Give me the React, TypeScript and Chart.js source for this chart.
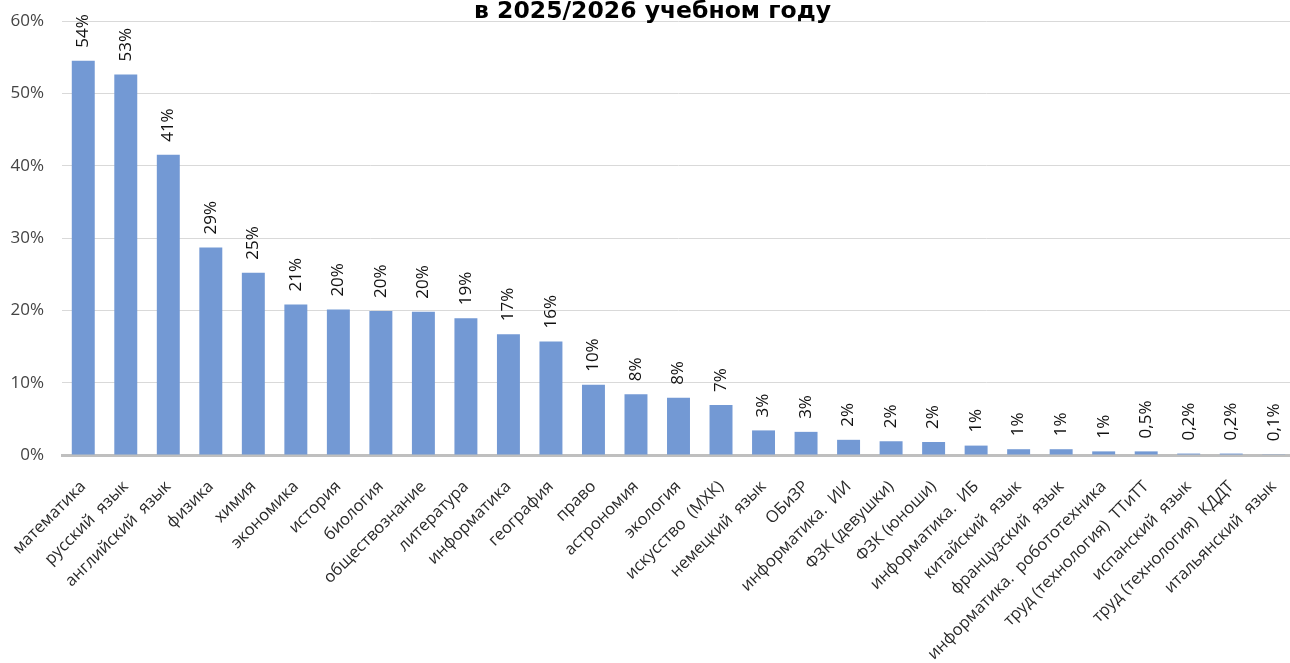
import React, { useEffect, useRef } from "react";
import { Chart, registerables } from "chart.js";

Chart.register(...registerables);

const categories = [
  "математика",
  "русский  язык",
  "английский  язык",
  "физика",
  "химия",
  "экономика",
  "история",
  "биология",
  "обществознание",
  "литература",
  "информатика",
  "география",
  "право",
  "астрономия",
  "экология",
  "искусство  (МХК)",
  "немецкий  язык",
  "ОБиЗР",
  "информатика.  ИИ",
  "ФЗК (девушки)",
  "ФЗК (юноши)",
  "информатика.  ИБ",
  "китайский  язык",
  "французский  язык",
  "информатика.  робототехника",
  "труд (технология)  ТТиТТ",
  "испанский  язык",
  "труд (технология)  КДДТ",
  "итальянский  язык",
];

const values = [
  54.5, 52.6, 41.5, 28.7, 25.2, 20.8, 20.1, 19.9, 19.8, 18.9, 16.7, 15.7, 9.7,
  8.4, 7.9, 6.9, 3.4, 3.2, 2.1, 1.9, 1.8, 1.3, 0.8, 0.8, 0.5, 0.5, 0.2, 0.2,
  0.1,
];

const valueLabels = [
  "54%", "53%", "41%", "29%", "25%", "21%", "20%", "20%", "20%", "19%", "17%",
  "16%", "10%", "8%", "8%", "7%", "3%", "3%", "2%", "2%", "2%", "1%", "1%",
  "1%", "1%", "0,5%", "0,2%", "0,2%", "0,1%",
];

const titleText = "в 2025/2026 учебном году";
const FONT = "'Open Sans', 'DejaVu Sans', sans-serif";
const TITLE_FONT = "'DejaVu Sans', 'Open Sans', sans-serif";

const dataLabelPlugin = {
  id: "dataLabelPlugin",
  afterDatasetsDraw(chart: any) {
    const ctx = chart.ctx;
    const meta = chart.getDatasetMeta(0);
    ctx.save();
    ctx.font = `17px ${FONT}`;
    ctx.fillStyle = "#111111";
    ctx.textAlign = "left";
    ctx.textBaseline = "middle";
    meta.data.forEach((bar: any, i: number) => {
      ctx.save();
      ctx.translate(bar.x, bar.y - 13);
      ctx.rotate(-Math.PI / 2);
      ctx.fillText(valueLabels[i], 0, 0);
      ctx.restore();
    });
    ctx.restore();
  },
};

export default function App() {
  const canvasRef = useRef<HTMLCanvasElement | null>(null);

  useEffect(() => {
    const canvas = canvasRef.current;
    if (!canvas) return;
    const chart = new Chart(canvas, {
      type: "bar",
      data: {
        labels: categories,
        datasets: [
          {
            data: values,
            backgroundColor: "#7399d4",
            barPercentage: 0.54,
            categoryPercentage: 1,
          },
        ],
      },
      options: {
        animation: false,
        responsive: false,
        devicePixelRatio: 1,
        layout: { padding: { left: 10, top: 0, right: 0, bottom: 0 } },
        plugins: {
          legend: { display: false },
          tooltip: { enabled: false },
          title: {
            display: true,
            text: titleText,
            color: "#000000",
            font: { family: TITLE_FONT, size: 23.5, weight: "bold", lineHeight: 1 },
            padding: { top: 0.5, bottom: -3 },
          },
        },
        scales: {
          x: {
            z: 1,
            grid: { display: false, drawTicks: false },
            border: { display: true, color: "#bfbfbf", width: 3 },
            ticks: {
              autoSkip: false,
              minRotation: 45,
              maxRotation: 45,
              padding: 22,
              color: "#2a2a2a",
              font: { family: FONT, size: 16.5 },
            },
            afterFit: (scale: any) => {
              scale.height = 208;
              scale.paddingLeft = 0;
              scale.paddingRight = 0;
            },
          },
          y: {
            min: 0,
            max: 60,
            grid: { color: "#d9d9d9", lineWidth: 1, drawTicks: false },
            border: { display: false },
            ticks: {
              stepSize: 10,
              padding: 18,
              color: "#444444",
              font: { family: FONT, size: 17 },
              callback: (v: any) => `${v}%`,
            },
            afterFit: (scale: any) => {
              scale.width = 52;
              scale.paddingTop = 0;
              scale.paddingBottom = 0;
            },
          },
        },
      },
      plugins: [dataLabelPlugin],
    });
    return () => chart.destroy();
  }, []);

  return (
    <div
      style={{
        position: "absolute",
        left: 0,
        top: 0,
        width: 1290,
        height: 663,
        overflow: "hidden",
        background: "#ffffff",
      }}
    >
      <canvas
        ref={canvasRef}
        width={1295}
        height={663}
        style={{ width: 1295, height: 663, display: "block" }}
      />
    </div>
  );
}
